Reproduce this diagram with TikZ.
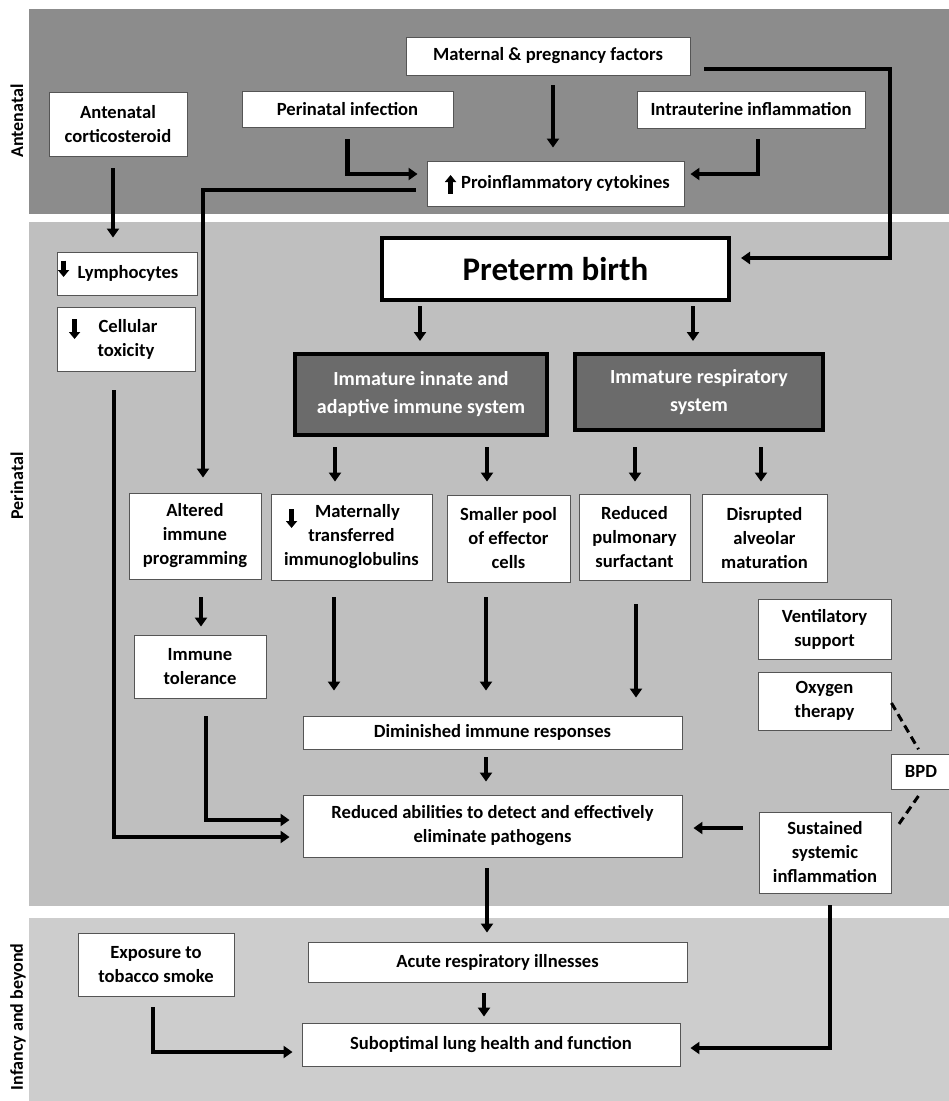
\documentclass[tikz,border=0pt]{standalone}
\usepackage{fontspec}
\setmainfont{Carlito}
\usetikzlibrary{arrows.meta,calc}
\definecolor{bandA}{HTML}{8C8C8C}
\definecolor{bandB}{HTML}{BFBFBF}
\definecolor{bandC}{HTML}{CDCDCD}
\definecolor{darkbox}{HTML}{6B6B6B}
\definecolor{boxline}{HTML}{555555}
\begin{document}
\begin{tikzpicture}[x=1pt,y=-1pt,
  every node/.style={font=\bfseries\fontsize{18.6}{24}\selectfont},
  box/.style={draw=boxline, line width=0.9pt, fill=white, inner sep=0pt, align=center},
  darkb/.style={draw=black, line width=4pt, fill=darkbox, text=white, inner sep=0pt, align=center,
     font=\bfseries\fontsize{20}{28}\selectfont},
  bigb/.style={draw=black, line width=4pt, fill=white, inner sep=0pt, align=center,
     font=\bfseries\fontsize{33}{40}\selectfont},
  arr/.style={draw=black, line width=4.2pt, -{Triangle[width=12pt,length=9pt]}},
  glyph/.style={draw=black, line width=4.6pt, -{Triangle[width=11pt,length=7pt]}},
  bpdline/.style={draw=black, line width=3pt, dash pattern=on 8pt off 5pt},
  sidelabel/.style={rotate=90, font=\bfseries\fontsize{18}{22}\selectfont}]
\useasboundingbox (0,0) rectangle (949,1101);
\fill[white] (0,0) rectangle (949,1101);
% bands
\fill[bandA] (29,9) rectangle (949,214);
\fill[bandB] (29,222) rectangle (949,906);
\fill[bandC] (29,918) rectangle (949,1101);
% side labels
\node[sidelabel] (labA) at (17,121) {Antenatal};
\node[sidelabel] (labP) at (17,486) {Perinatal};
\node[sidelabel] (labI) at (18,1017) {Infancy and beyond};

% antenatal nodes
\node[box, minimum width=284, minimum height=38] (mat) at (548,56) {Maternal \& pregnancy factors};
\node[box, minimum width=211, minimum height=36] (pin) at (347.5,109) {Perinatal infection};
\node[box, minimum width=138, minimum height=64] (ant) at (118,124) {Antenatal\\corticosteroid};
\node[box, minimum width=228, minimum height=37] (iut) at (751,109.5) {Intrauterine inflammation};
\node[box, minimum width=257, minimum height=45] (pro) at (555.5,183.5) {\hspace*{20pt}Proinflammatory cytokines};

% perinatal nodes
\node[bigb, minimum width=347, minimum height=62] (pre) at (555.5,269) {Preterm birth};
\node[darkb, minimum width=252, minimum height=81] (imm) at (421,394.5) {Immature innate and\\adaptive immune system};
\node[darkb, minimum width=248, minimum height=76] (res) at (699,392) {Immature respiratory\\system};
\node[box, minimum width=140, minimum height=43] (lym) at (127,273.5) {\hspace*{2pt}Lymphocytes};
\node[box, minimum width=138, minimum height=64] (cel) at (126,339) {\hspace*{4pt}Cellular\\toxicity};
\node[box, minimum width=132, minimum height=86] (alt) at (195,536) {Altered\\immune\\programming};
\node[box, minimum width=132, minimum height=63] (tol) at (200,666.5) {Immune\\tolerance};
\node[box, minimum width=161, minimum height=86] (mtg) at (351.5,537) {\hspace*{12pt}Maternally\\transferred\\immunoglobulins};
\node[box, minimum width=123, minimum height=87] (spl) at (508.5,538.5) {Smaller pool\\of effector\\cells};
\node[box, minimum width=111, minimum height=86] (rps) at (634.5,537) {Reduced\\pulmonary\\surfactant};
\node[box, minimum width=125, minimum height=88] (dam) at (764.5,538) {Disrupted\\alveolar\\maturation};
\node[box, minimum width=133, minimum height=60] (ven) at (824.5,629) {Ventilatory\\support};
\node[box, minimum width=133, minimum height=58] (oxy) at (824.5,701) {Oxygen\\therapy};
\node[box, minimum width=60, minimum height=35] (bpd) at (921,771.5) {BPD};
\node[box, minimum width=132, minimum height=81] (sus) at (825,852.5) {Sustained\\systemic\\inflammation};
\node[box, minimum width=379, minimum height=33] (dim) at (492.5,732.5) {Diminished immune responses};
\node[box, minimum width=379, minimum height=62] (red) at (492.5,826) {Reduced abilities to detect and effectively\\eliminate pathogens};

% infancy nodes
\node[box, minimum width=379, minimum height=40] (acu) at (497.5,962) {Acute respiratory illnesses};
\node[box, minimum width=378, minimum height=43] (sub) at (491,1044.5) {Suboptimal lung health and function};
\node[box, minimum width=156, minimum height=63] (tob) at (156,964.5) {Exposure to\\tobacco smoke};

% small glyph arrows inside boxes
\draw[glyph] ([shift={(24pt,-10pt)}]pro.west) -- ([shift={(24pt,8.5pt)}]pro.west);
\draw[glyph] ([shift={(7pt,13pt)}]lym.west) -- ([shift={(7pt,-3.5pt)}]lym.west);
\draw[glyph] ([shift={(18pt,20pt)}]cel.west) -- ([shift={(18pt,0pt)}]cel.west);
\draw[glyph] ([shift={(21pt,28pt)}]mtg.west) -- ([shift={(21pt,9pt)}]mtg.west);

% connectors
\draw[arr, shorten <=10pt, shorten >=13pt] ([xshift=5pt]mat.south) -- ([xshift=-2.5pt]pro.north);
\draw[arr, shorten <=12pt, shorten >=9pt] (pin.south) |- ([yshift=9.5pt]pro.west);
\draw[arr, shorten <=11pt, shorten >=6pt] ([xshift=7pt]iut.south) |- ([yshift=9.5pt]pro.east);
\coordinate (cMP) at (890,258);
\draw[arr, shorten >=10pt] ([shift={(14pt,-13pt)}]mat.east) -| (cMP) -- ([yshift=11pt]pre.east);
\draw[arr, shorten <=11pt, shorten >=15pt] ([yshift=-6.5pt]pro.west) -| ([xshift=8pt]alt.north);
\draw[arr, shorten <=12pt, shorten >=14pt] ([xshift=-5pt]ant.south) -- ([xshift=-14pt]lym.north);
\draw[arr, shorten <=19pt, shorten >=13pt] ([xshift=-12pt]cel.south) |- ([yshift=-11pt]red.west);
\draw[arr, shorten <=18pt, shorten >=13pt] ([xshift=6pt]tol.south) |- ([yshift=6pt]red.west);
\draw[arr, shorten <=18pt, shorten >=8pt] ([xshift=6pt]alt.south) -- ([xshift=1pt]tol.north);
\draw[arr, shorten <=4pt, shorten >=11pt] ([xshift=-135.5pt]pre.south) -- ([xshift=-1pt]imm.north);
\draw[arr, shorten <=4pt, shorten >=11pt] ([xshift=137.5pt]pre.south) -- ([xshift=-6pt]res.north);
\draw[arr, shorten <=10pt, shorten >=12pt] ([xshift=-86pt]imm.south) -- ([xshift=-16.5pt]mtg.north);
\draw[arr, shorten <=10pt, shorten >=13pt] ([xshift=66pt]imm.south) -- ([xshift=-21.5pt]spl.north);
\draw[arr, shorten <=15pt, shorten >=12pt] ([xshift=-64pt]res.south) -- ([xshift=0.5pt]rps.north);
\draw[arr, shorten <=15pt, shorten >=12pt] ([xshift=62pt]res.south) -- ([xshift=-3.5pt]dam.north);
\draw[arr, shorten <=17pt, shorten >=25pt] ([xshift=-17.5pt]mtg.south) -- ([xshift=-158.5pt]dim.north);
\draw[arr, shorten <=15pt, shorten >=25pt] ([xshift=-22.5pt]spl.south) -- ([xshift=-6.5pt]dim.north);
\draw[arr, shorten <=24pt, shorten >=18pt] ([xshift=1.5pt]rps.south) -- ([xshift=143.5pt]dim.north);
\draw[arr, shorten <=8pt, shorten >=13pt] ([xshift=-6.5pt]dim.south) -- ([xshift=-6.5pt]red.north);
\draw[arr, shorten <=16pt, shorten >=11pt] ([yshift=24.5pt]sus.west) -- ([yshift=-2pt]red.east);
\draw[arr, shorten <=11pt, shorten >=9pt] ([xshift=-5.5pt]red.south) -- ([xshift=-10.5pt]acu.north);
\draw[arr, shorten <=11pt, shorten >=6pt] ([xshift=-13.5pt]acu.south) -- ([xshift=-7pt]sub.north);
\draw[arr, shorten <=11pt, shorten >=9pt] ([xshift=-3pt]tob.south) |- ([yshift=-7.5pt]sub.west);
\draw[arr, shorten <=12pt, shorten >=10pt] ([xshift=5pt]sus.south) |- ([yshift=-3.5pt]sub.east);
% BPD dashed links
\draw[bpdline, shorten >=5pt] ([yshift=-2pt]oxy.east) -- (bpd.north);
\draw[bpdline, shorten <=8pt] ([xshift=2pt]bpd.south) -- ([shift={(5pt,-16pt)}]sus.north east);
\end{tikzpicture}
\end{document}
